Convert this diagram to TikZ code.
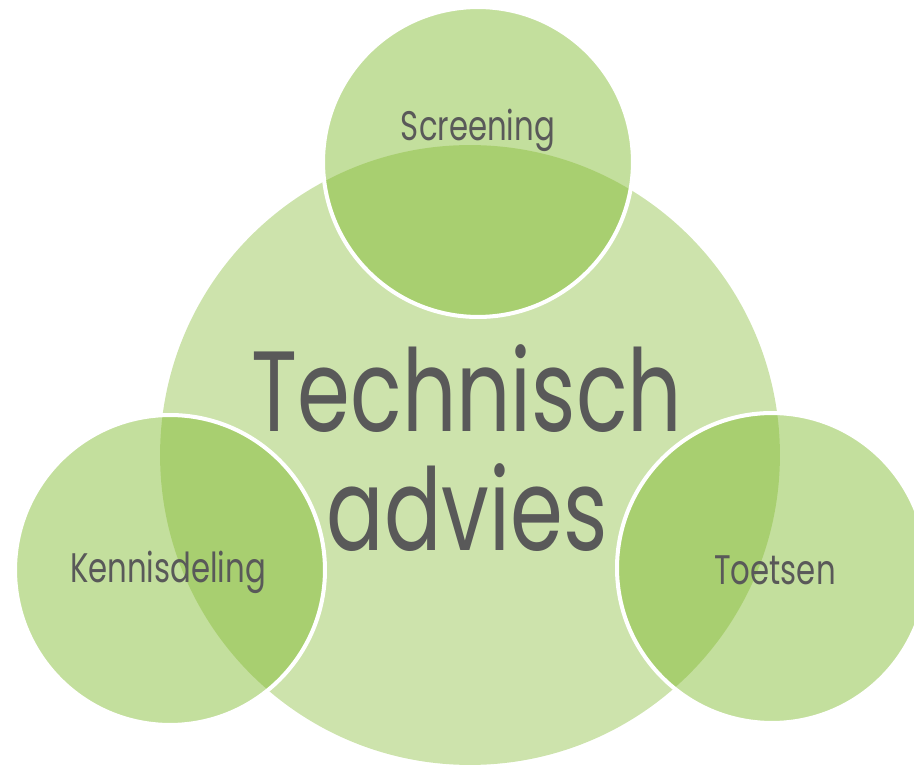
\documentclass[tikz,border=0pt]{standalone}
\usepackage{fontspec}
\usepackage{graphicx}
\setmainfont{Poppins}
\definecolor{advgreen}{HTML}{CDE3AC}
\definecolor{ringgreen}{HTML}{80BA2E}
\definecolor{txtgrey}{HTML}{595959}
\newcommand{\squeeze}[1]{\scalebox{0.745}[1]{#1}}
\begin{document}
\begin{tikzpicture}
	[x=0.02cm, y=-0.02cm,
	core/.style ={circle, fill=advgreen, minimum size=12.4cm, inner sep=0pt},
	ring/.style ={circle, draw=white, line width=2.3pt, fill=ringgreen, fill opacity=0.47, draw opacity=1, minimum size=6.2cm, inner sep=0pt},
	txt/.style ={text=txtgrey, inner sep=0pt, font=\fontsize{23.5}{25}\selectfont},
	bigtxt/.style ={text=txtgrey, inner sep=0pt, align=center, font=\fontsize{65}{68}\selectfont}]
	\useasboundingbox (0,0) rectangle (914,766);
	\node[core] (core) at (470,455) {};
	\node[ring] (scr) at (478,162) {};
	\node[ring] (ken) at (170,570) {};
	\node[ring] (toe) at (772,568) {};
	\node[bigtxt] (main) at (467,448) {\squeeze{Technisch}\\\squeeze{advies}};
	\node[txt] (scrtxt) at (478,130) {\squeeze{Screening}};
	\node[txt] (kentxt) at (168,572) {\squeeze{Kennisdeling}};
	\node[txt] (toetxt) at (775,570) {\squeeze{Toetsen}};
\end{tikzpicture}
\end{document}
